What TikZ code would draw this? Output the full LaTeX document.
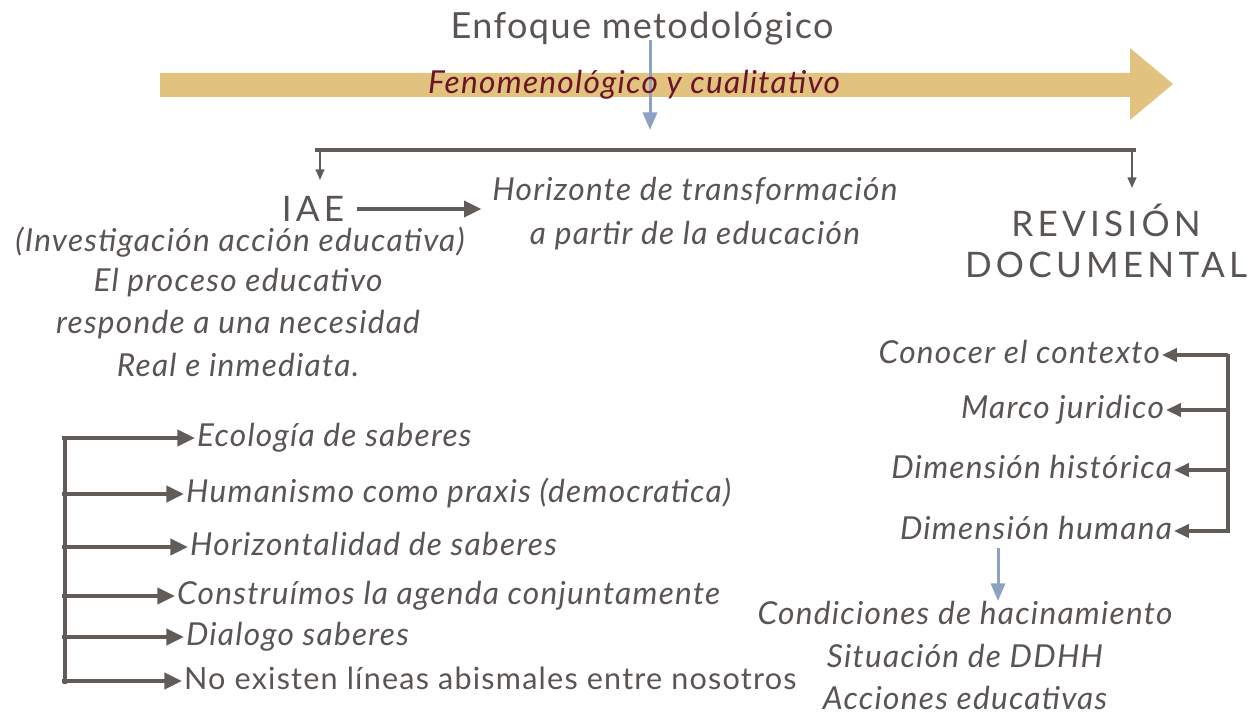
\documentclass[tikz,border=0pt]{standalone}
\usepackage{fontspec}
\setmainfont{Lato}
\newfontfamily\spacedfont[LetterSpace=12]{Lato}
\newfontfamily\bodyfont[LetterSpace=4]{Lato}
\usepackage{xcolor}
\usepackage{tikz}
\usetikzlibrary{positioning,arrows.meta}
\definecolor{txtgray}{HTML}{5A5452}
\definecolor{arrgray}{HTML}{625C59}
\definecolor{bandtan}{HTML}{E2C27F}
\definecolor{bluearr}{HTML}{8DA2C3}
\definecolor{darkred}{HTML}{6A1426}
\begin{document}
\begin{tikzpicture}[x=0.02cm, y=-0.02cm,
  itbase/.style={text=txtgray, font=\fontsize{18}{20}\selectfont\bodyfont\itshape, inner sep=1pt},
  itnode/.style={itbase, text height=1em, text depth=0em},
  upnode/.style={text=txtgray, font=\fontsize{20}{22}\selectfont\spacedfont, inner sep=0pt},
  grayarrow/.style={draw=arrgray, line width=2.3pt, -{Triangle[length=10pt, width=9pt]}},
  thinarrow/.style={draw=arrgray, line width=2pt, -{Triangle[length=8.5pt, width=7.5pt]}},
  bluearrow/.style={draw=bluearr, line width=1.7pt, -{Triangle[length=10pt, width=8pt]}}]
\useasboundingbox (0,0) rectangle (1254,719);

\fill[bandtan] (160,73) -- (1130,73) -- (1130,48) -- (1173,84) -- (1130,120) -- (1130,97) -- (160,97) -- cycle;
\node[text=txtgray, font=\fontsize{20.5}{23}\selectfont\bodyfont] at (642,29) (title) {Enfoque metodológico};
\coordinate (btop) at (650,40);
\coordinate (bbot) at (650,130);
\draw[bluearrow] (btop) -- (bbot);
\node[text=darkred, font=\fontsize{18}{20}\selectfont\bodyfont\itshape] at (634,85) (fen) {Fenomenológico y cualitativo};

\coordinate (barl) at (320,150);
\coordinate (barr) at (1132,150);
\draw[draw=arrgray, line width=2.8pt] ([xshift=-3pt]barl) -- ([xshift=2pt]barr);
\node[upnode] at (313,209) (iae) {IAE};
\node[upnode, align=center, font=\fontsize{20}{23.5}\selectfont\spacedfont] at (1106,241) (rev) {REVISIÓN\\DOCUMENTAL};
\draw[draw=arrgray, line width=0.9pt, -{Triangle[length=6pt, width=5pt]}] (barl) -- (320,180);
\draw[draw=arrgray, line width=0.9pt, -{Triangle[length=6pt, width=5pt]}] (barr) -- (1132,188);

\node[itbase, align=center, font=\fontsize{18}{25}\selectfont\bodyfont\itshape] at (695,214) (hor) {Horizonte de transformación\\a partir de la educación};
\draw[grayarrow, shorten >=5pt] ([xshift=7pt]iae.east) -- (hor.west |- iae.east);

\node[itnode] at (240,243) (inv) {(Investigación acción educativa)};
\node[itnode] at (238,283) (proc1) {El proceso educativo};
\node[itnode] at (238,325) (proc2) {responde a una necesidad};
\node[itnode] at (238,368) (proc3) {Real e inmediata.};

\coordinate (ltop) at (65,438);
\coordinate (lbot) at (65,684);
\draw[draw=arrgray, line width=2.3pt] (ltop) -- (lbot);
\node[itnode, anchor=west] at (195,438) (s1) {Ecología de saberes};
\node[itnode, anchor=west] at (184,494) (s2) {Humanismo como praxis (democratica)};
\node[itnode, anchor=west] at (188,547) (s3) {Horizontalidad de saberes};
\node[itnode, anchor=west] at (175,596) (s4) {Construímos la agenda conjuntamente};
\node[itnode, anchor=west] at (184,637) (s5) {Dialogo saberes};
\node[itnode, anchor=west, font=\fontsize{17.4}{20}\selectfont\bodyfont] at (182,681) (s6) {No existen líneas abismales entre nosotros};
\foreach \n/\y in {s1/438, s2/494, s3/547, s4/596, s5/637, s6/681}
  \draw[grayarrow] (62,\y) -- (\n.west);

\coordinate (rtop) at (1228,354);
\coordinate (rbot) at (1228,533);
\draw[draw=arrgray, line width=2pt] (rtop) -- (rbot);
\node[itnode, anchor=east] at (1162,355) (d1) {Conocer el contexto};
\node[itnode, anchor=east] at (1166,410) (d2) {Marco juridico};
\node[itnode, anchor=east] at (1174,470) (d3) {Dimensión histórica};
\node[itnode, anchor=east] at (1174,531) (d4) {Dimensión humana};
\foreach \n/\y in {d1/355, d2/410, d3/470, d4/531}
  \draw[thinarrow] (1228,\y) -- (\n.east);

\node[itnode] at (965,616) (c1) {Condiciones de hacinamiento};
\node[itnode] at (965,659) (c2) {Situación de DDHH};
\node[itnode] at (965,701) (c3) {Acciones educativas};
\draw[bluearrow] (998,548) -- (998,601);

\end{tikzpicture}
\end{document}
